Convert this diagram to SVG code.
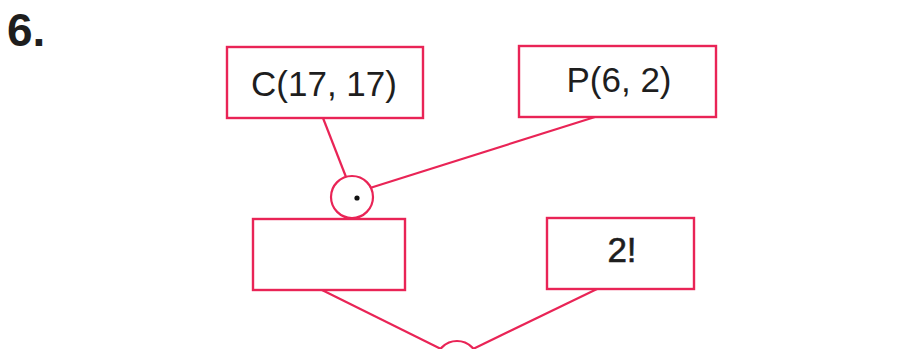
<svg xmlns="http://www.w3.org/2000/svg" width="910" height="349" viewBox="0 0 910 349">
<style>
.box{fill:none;stroke:#e92456;stroke-width:2.4}
.ln{fill:none;stroke:#e92456;stroke-width:2.2}
.t{font-family:"Liberation Sans",Arial,sans-serif;font-size:35px;fill:#1e1e1e;text-anchor:middle}
</style>
<rect width="910" height="349" fill="#fff"/>
<text x="7" y="46" font-family="Liberation Sans,Arial,sans-serif" font-weight="bold" font-size="46" fill="#1e1e1e">6.</text>
<g id="connectors">
<line class="ln" x1="323" y1="118" x2="346" y2="177"/>
<line class="ln" x1="595" y1="117" x2="370" y2="188"/>
<line class="ln" x1="322" y1="290" x2="441" y2="349"/>
<line class="ln" x1="597" y1="289" x2="473" y2="349"/>
</g>
<g id="nodeC"><rect class="box" x="227" y="47" width="196" height="71"/><text class="t" x="324" y="96">C(17, 17)</text></g>
<g id="nodeP"><rect class="box" x="519" y="46" width="197" height="71"/><text class="t" x="619" y="92">P(6, 2)</text></g>
<g id="op1"><circle class="ln" cx="352" cy="197" r="21"/><circle cx="357" cy="198" r="2.6" fill="#111"/></g>
<g id="nodeBlank"><rect class="box" x="253" y="219" width="152" height="71"/></g>
<g id="nodeFact"><rect class="box" x="547" y="218" width="147" height="71"/><text class="t" x="622" y="262" stroke="#1e1e1e" stroke-width="0.6">2!</text></g>
<g id="op2"><circle class="ln" cx="457" cy="362" r="21"/></g>
</svg>
